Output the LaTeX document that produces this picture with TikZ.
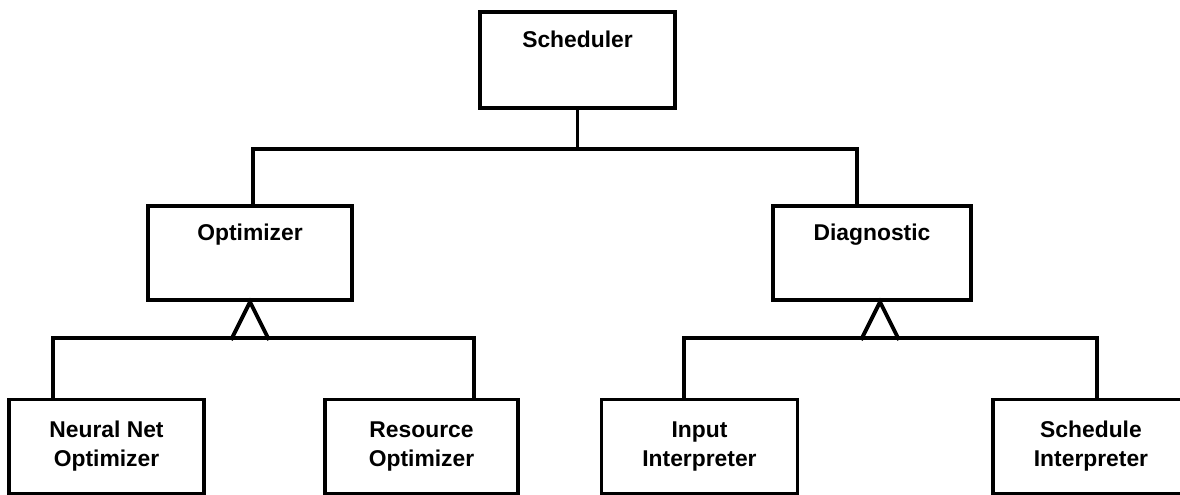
\documentclass[tikz,border=0pt]{standalone}
\usepackage{fontspec}
\setmainfont{Liberation Sans}
\usetikzlibrary{calc, positioning}

\begin{document}
\begin{tikzpicture}[x=0.02cm, y=-0.02cm, line width=2.2pt,
    box/.style={rectangle, draw, line width=2.2pt, inner sep=0pt, align=center,
        minimum width=3.92cm, minimum height=1.88cm,
        font=\bfseries\fontsize{13}{16.5}\selectfont},
    headbox/.style={box, text depth=0.85cm}]
    \useasboundingbox (0,0) rectangle (1180,494);
    \clip (0,0) rectangle (1180,494);

    \node[headbox, minimum width=3.9cm, minimum height=1.92cm] (sched) at (577.5,60) {Scheduler};
    \node[headbox, minimum width=4.08cm] (opt) at (250,253) {Optimizer};
    \node[headbox, minimum width=3.96cm] (diag) at (872,253) {Diagnostic};

    \node[box, minimum width=3.9cm] (nnopt) at (106.5,446.5) {Neural Net\\Optimizer};
    \node[box, minimum width=3.86cm] (resopt) at (421.5,446.5) {Resource\\Optimizer};
    \node[box] (inint) at (699.5,446.5) {Input\\Interpreter};
    \node[box] (schint) at (1091,446.5) {Schedule\\Interpreter};

    % scheduler to its parts
    \draw (sched.south) -- ++(0,39) coordinate (bus);
    \draw ([xshift=1.5]opt.north) |- (bus) -| ($(diag.north west)+(86,0)$);

    % optimizer is made of
    \draw ($(opt.south)+(-19,38)$) -- (opt.south) -- ++(19,38);
    \draw ($(nnopt.north west)+(46,0)$) -- ++(0,-60) -| ($(resopt.north east)+(-46,0)$);

    % diagnostic is made of
    \draw ($(diag.south)+(-11,38)$) -- ($(diag.south)+(8,0)$) -- ++(19,38);
    \draw ($(inint.north west)+(84,0)$) -- ++(0,-60) -| ($(schint.north west)+(106,0)$);
\end{tikzpicture}
\end{document}
